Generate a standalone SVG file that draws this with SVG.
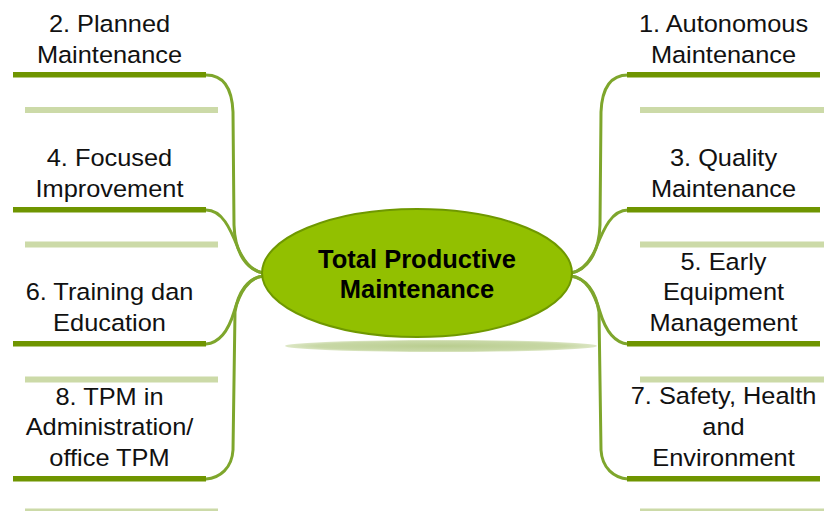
<svg xmlns="http://www.w3.org/2000/svg" width="824" height="511" viewBox="0 0 824 511">
<style>
.dark{fill:#6F9500}
.light{fill:#CCDAA8}
.conn{fill:none;stroke:#7EA62C;stroke-width:3;stroke-linecap:round}
.lbl{font-family:"Liberation Sans",Arial,sans-serif;font-size:23.5px;fill:#111;text-anchor:middle}
.ctr{font-family:"Liberation Sans",Arial,sans-serif;font-size:25.5px;font-weight:bold;fill:#000;text-anchor:middle}
</style>
<defs>
<radialGradient id="sh" cx="0.5" cy="0.5" r="0.5">
<stop offset="0" stop-color="#B9CD8F"/>
<stop offset="0.8" stop-color="#C8D8A6"/>
<stop offset="1" stop-color="#DDE7C6"/>
</radialGradient>
</defs>
<g id="connectors">
<g id="left-connectors">
<path class="conn" d="M206 75 C224 75 232 88 233 112 L234 225 C235 255 248 270 263 273"/>
<path class="conn" d="M206 210 C222 210 230 228 238 248 C244 262 252 271 263 273"/>
<path class="conn" d="M263 276 C248 278 240 292 234 312 C228 332 218 343 206 344"/>
<path class="conn" d="M263 276 C248 278 238 292 235 312 L233 450 C232 468 220 478 206 479"/>
</g>
<g id="right-connectors" transform="translate(834 0) scale(-1 1)">
<path class="conn" d="M206 75 C224 75 232 88 233 112 L234 225 C235 255 248 270 263 273"/>
<path class="conn" d="M206 210 C222 210 230 228 238 248 C244 262 252 271 263 273"/>
<path class="conn" d="M263 276 C248 278 240 292 234 312 C228 332 218 343 206 344"/>
<path class="conn" d="M263 276 C248 278 238 292 235 312 L233 450 C232 468 220 478 206 479"/>
</g>
</g>
<g id="center">
<ellipse cx="441" cy="346" rx="156" ry="6" fill="url(#sh)"/>
<ellipse cx="417" cy="273" rx="155" ry="64" fill="#92C000" stroke="#6F9800" stroke-width="2"/>
<text class="ctr" x="417" y="268">Total Productive</text>
<text class="ctr" x="417" y="298">Maintenance</text>
</g>
<g id="n2">
<rect class="dark" x="13" y="72" width="193" height="5.5"/>
<rect class="light" x="25" y="107" width="193" height="6"/>
<text class="lbl" transform="translate(109.5 0) scale(1.08 1)"><tspan x="0" y="32">2. Planned</tspan><tspan x="0" y="63">Maintenance</tspan></text>
</g>
<g id="n4">
<rect class="dark" x="13" y="207" width="193" height="5.5"/>
<rect class="light" x="25" y="241.5" width="193" height="6"/>
<text class="lbl" transform="translate(109.5 0) scale(1.08 1)"><tspan x="0" y="166.5">4. Focused</tspan><tspan x="0" y="197">Improvement</tspan></text>
</g>
<g id="n6">
<rect class="dark" x="13" y="341" width="193" height="5.5"/>
<rect class="light" x="25" y="376.5" width="193" height="6"/>
<text class="lbl" transform="translate(109.5 0) scale(1.08 1)"><tspan x="0" y="300">6. Training dan</tspan><tspan x="0" y="331">Education</tspan></text>
</g>
<g id="n8">
<rect class="dark" x="13" y="476" width="193" height="5.5"/>
<rect class="light" x="25" y="508.5" width="193" height="6"/>
<text class="lbl" transform="translate(109.5 0) scale(1.08 1)"><tspan x="0" y="405">8. TPM in</tspan><tspan x="0" y="435.5">Administration/</tspan><tspan x="0" y="466">office TPM</tspan></text>
</g>
<g id="n1">
<rect class="dark" x="627" y="72" width="193" height="5.5"/>
<rect class="light" x="640" y="107" width="184" height="6"/>
<text class="lbl" transform="translate(723.5 0) scale(1.08 1)"><tspan x="0" y="32">1. Autonomous</tspan><tspan x="0" y="63">Maintenance</tspan></text>
</g>
<g id="n3">
<rect class="dark" x="627" y="207" width="193" height="5.5"/>
<rect class="light" x="640" y="241.5" width="184" height="6"/>
<text class="lbl" transform="translate(723.5 0) scale(1.08 1)"><tspan x="0" y="166.5">3. Quality</tspan><tspan x="0" y="197">Maintenance</tspan></text>
</g>
<g id="n5">
<rect class="dark" x="627" y="341" width="193" height="5.5"/>
<rect class="light" x="640" y="376.5" width="184" height="6"/>
<text class="lbl" transform="translate(723.5 0) scale(1.08 1)"><tspan x="0" y="270">5. Early</tspan><tspan x="0" y="300.5">Equipment</tspan><tspan x="0" y="331">Management</tspan></text>
</g>
<g id="n7">
<rect class="dark" x="627" y="476" width="193" height="5.5"/>
<rect class="light" x="640" y="508.5" width="184" height="6"/>
<text class="lbl" transform="translate(723.5 0) scale(1.08 1)"><tspan x="0" y="404.5">7. Safety, Health</tspan><tspan x="0" y="435">and</tspan><tspan x="0" y="466">Environment</tspan></text>
</g>
</svg>
